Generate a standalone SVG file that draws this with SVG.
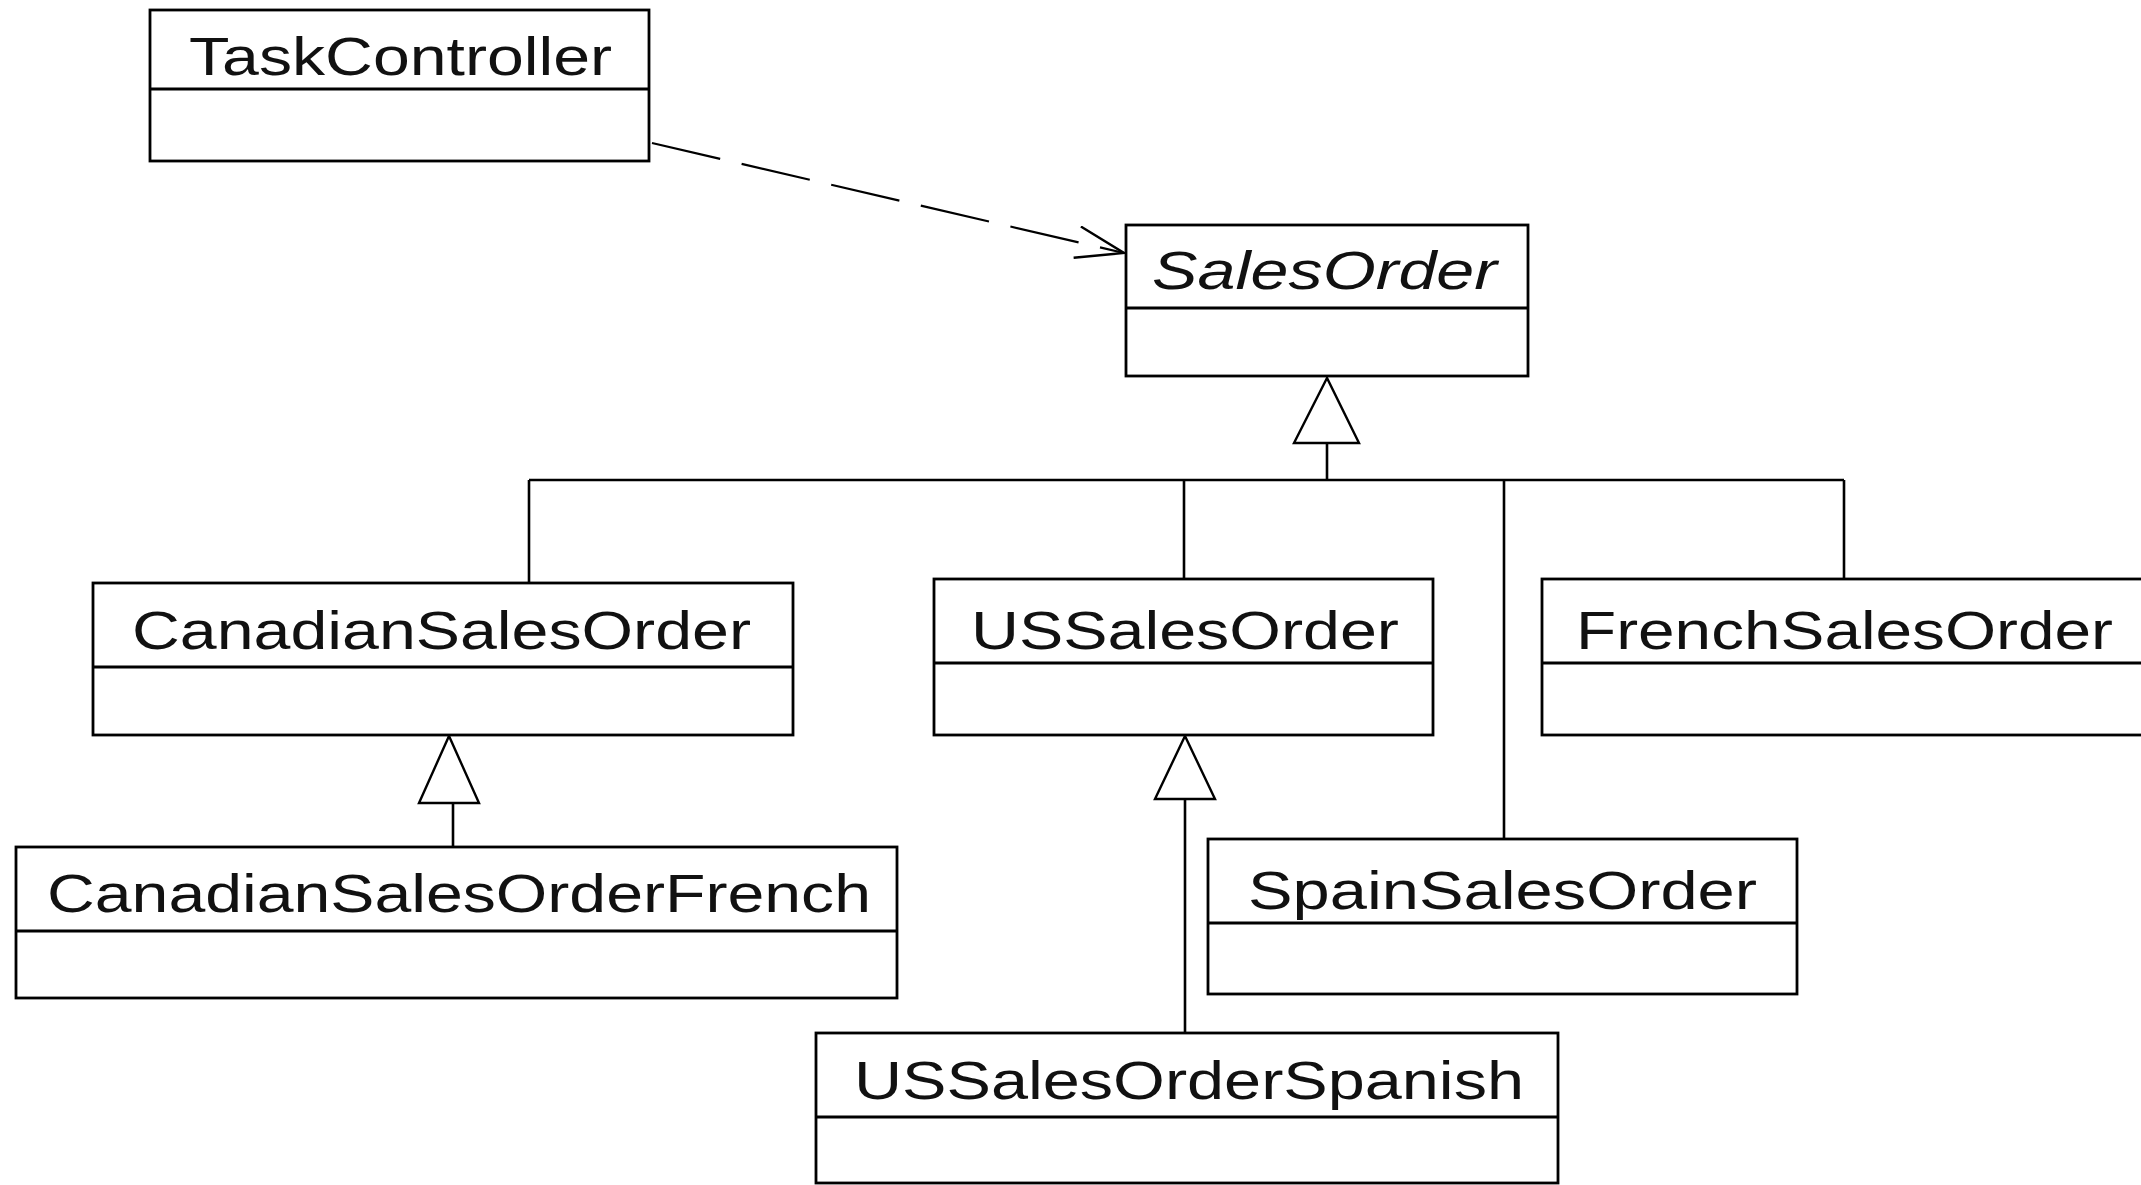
<svg xmlns="http://www.w3.org/2000/svg" width="2141" height="1185" viewBox="0 0 2141 1185">
  <style>
    .box { fill: #fff; stroke: #000; stroke-width: 2.8; }
    .sep { stroke: #000; stroke-width: 2.8; }
    .name { font-family: "Liberation Sans", Arial, sans-serif; font-size: 54px; fill: #111; }
    .abstract { font-style: italic; }
    .edge { fill: none; stroke: #000; stroke-width: 2.6; }
    .dep { fill: none; stroke: #000; stroke-width: 2.2; stroke-dasharray: 70 22; }
    .gen { fill: #fff; stroke: #000; stroke-width: 2.4; stroke-linejoin: miter; }
  </style>
  <defs>
    <marker id="openArrow" markerUnits="userSpaceOnUse" markerWidth="60" markerHeight="40" refX="50" refY="17" orient="auto">
      <path d="M 2 1 L 50 17 L 2 33" fill="none" stroke="#000" stroke-width="2.4"/>
    </marker>
  </defs>

  <rect width="2141" height="1185" fill="#fff"/>

  <!-- connectors -->
  <g id="connectors">
    <!-- dependency: TaskController uses SalesOrder -->
    <line class="dep" x1="652" y1="143" x2="1124" y2="253" marker-end="url(#openArrow)"/>

    <!-- generalization tree under SalesOrder -->
    <line class="edge" x1="1327" y1="443" x2="1327" y2="480"/>
    <line class="edge" x1="529" y1="480" x2="1844" y2="480"/>
    <line class="edge" x1="529" y1="480" x2="529" y2="583"/>
    <line class="edge" x1="1184" y1="480" x2="1184" y2="579"/>
    <line class="edge" x1="1504" y1="480" x2="1504" y2="839"/>
    <line class="edge" x1="1844" y1="480" x2="1844" y2="579"/>
    <polygon class="gen" points="1327,378 1294,443 1359,443"/>

    <!-- CanadianSalesOrderFrench extends CanadianSalesOrder -->
    <line class="edge" x1="453" y1="803" x2="453" y2="847"/>
    <polygon class="gen" points="449,736 419,803 479,803"/>

    <!-- USSalesOrderSpanish extends USSalesOrder -->
    <line class="edge" x1="1185" y1="799" x2="1185" y2="1033"/>
    <polygon class="gen" points="1185,736 1155,799 1215,799"/>
  </g>

  <!-- classes -->
  <g id="TaskController">
    <rect class="box" x="150" y="10" width="499" height="151"/>
    <line class="sep" x1="150" y1="89" x2="649" y2="89"/>
    <text class="name" x="189" y="75" textLength="423" lengthAdjust="spacingAndGlyphs">TaskController</text>
  </g>

  <g id="SalesOrder">
    <rect class="box" x="1126" y="225" width="402" height="151"/>
    <line class="sep" x1="1126" y1="308" x2="1528" y2="308"/>
    <text class="name abstract" x="1152" y="289" textLength="345" lengthAdjust="spacingAndGlyphs">SalesOrder</text>
  </g>

  <g id="CanadianSalesOrder">
    <rect class="box" x="93" y="583" width="700" height="152"/>
    <line class="sep" x1="93" y1="667" x2="793" y2="667"/>
    <text class="name" x="132" y="649" textLength="619" lengthAdjust="spacingAndGlyphs">CanadianSalesOrder</text>
  </g>

  <g id="USSalesOrder">
    <rect class="box" x="934" y="579" width="499" height="156"/>
    <line class="sep" x1="934" y1="663" x2="1433" y2="663"/>
    <text class="name" x="971" y="649" textLength="428" lengthAdjust="spacingAndGlyphs">USSalesOrder</text>
  </g>

  <g id="FrenchSalesOrder">
    <rect class="box" x="1542" y="579" width="640" height="156"/>
    <line class="sep" x1="1542" y1="663" x2="2182" y2="663"/>
    <text class="name" x="1576" y="649" textLength="537" lengthAdjust="spacingAndGlyphs">FrenchSalesOrder</text>
  </g>

  <g id="CanadianSalesOrderFrench">
    <rect class="box" x="16" y="847" width="881" height="151"/>
    <line class="sep" x1="16" y1="931" x2="897" y2="931"/>
    <text class="name" x="47" y="912" textLength="824" lengthAdjust="spacingAndGlyphs">CanadianSalesOrderFrench</text>
  </g>

  <g id="SpainSalesOrder">
    <rect class="box" x="1208" y="839" width="589" height="155"/>
    <line class="sep" x1="1208" y1="923" x2="1797" y2="923"/>
    <text class="name" x="1248" y="909" textLength="509" lengthAdjust="spacingAndGlyphs">SpainSalesOrder</text>
  </g>

  <g id="USSalesOrderSpanish">
    <rect class="box" x="816" y="1033" width="742" height="150"/>
    <line class="sep" x1="816" y1="1117" x2="1558" y2="1117"/>
    <text class="name" x="854" y="1099" textLength="670" lengthAdjust="spacingAndGlyphs">USSalesOrderSpanish</text>
  </g>
</svg>
